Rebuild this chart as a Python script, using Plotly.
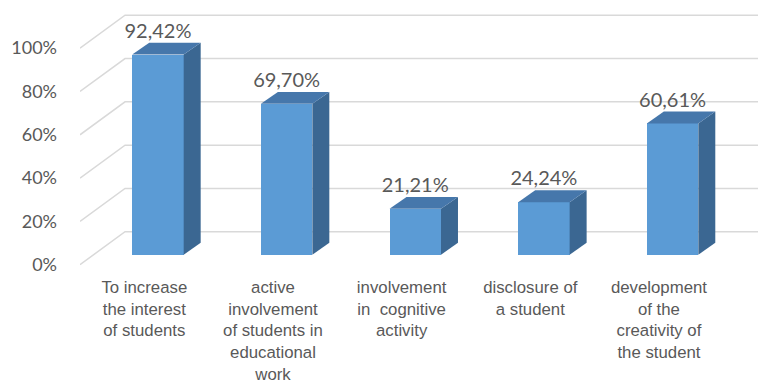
import plotly.graph_objects as go

categories = [
    "To increase<br>the interest<br>of students",
    "active<br>involvement<br>of students in<br>educational<br>work",
    "involvement<br>in  cognitive<br>activity",
    "disclosure of<br>a student",
    "development<br>of the<br>creativity of<br>the student",
]
values = [92.42, 69.70, 21.21, 24.24, 60.61]
value_labels = ["92,42%", "69,70%", "21,21%", "24,24%", "60,61%"]
tick_values = [0, 20, 40, 60, 80, 100]
tick_labels = ["0%", "20%", "40%", "60%", "80%", "100%"]

# pseudo-3D projection offsets (x in category units, y in percent units)
FRONT_DX, FRONT_DY = 0.106, 4.6   # bar front face behind front plane
BACK_DX, BACK_DY = 0.238, 10.1    # bar back face
WALL_DX, WALL_DY = 0.35, 15.2     # back wall
HALF_W = 0.2
X_MIN, X_MAX = -0.5, 4.77

FRONT = "#5b9bd5"
TOP = "#4677ab"
SIDE = "#3b6792"
GRID = "#d9d9d9"
TXT = "#595959"

fig = go.Figure()

# gridlines: diagonal on side wall + horizontal on back wall (behind the bars)
for v in tick_values:
    fig.add_shape(
        type="path",
        path=f"M {X_MIN},{v} L {X_MIN + WALL_DX},{v + WALL_DY} L {X_MAX + 1},{v + WALL_DY}",
        xref="x", yref="y", layer="below",
        line=dict(color=GRID, width=1.5))

xs = list(range(len(values)))

# front faces
fig.add_trace(go.Bar(
    x=[i + FRONT_DX for i in xs], y=values, base=FRONT_DY,
    width=2 * HALF_W, marker=dict(color=FRONT, line=dict(width=0)),
    showlegend=False, hoverinfo="skip"))

# side and top faces
for i, v in zip(xs, values):
    xl = i + FRONT_DX - HALF_W
    xr = i + FRONT_DX + HALF_W
    ddx = BACK_DX - FRONT_DX
    ddy = BACK_DY - FRONT_DY
    yb = FRONT_DY
    yt = FRONT_DY + v
    fig.add_trace(go.Scatter(
        x=[xr, xr + ddx, xr + ddx, xr, xr],
        y=[yb, yb + ddy, yt + ddy, yt, yb],
        mode="lines", fill="toself", fillcolor=SIDE,
        line=dict(width=0, color=SIDE), hoverinfo="skip", showlegend=False))
    fig.add_trace(go.Scatter(
        x=[xl, xr, xr + ddx, xl + ddx, xl],
        y=[yt, yt, yt + ddy, yt + ddy, yt],
        mode="lines", fill="toself", fillcolor=TOP,
        line=dict(width=0, color=TOP), hoverinfo="skip", showlegend=False))

# data labels
fig.add_trace(go.Scatter(
    x=[i + FRONT_DX for i in xs], y=[v + BACK_DY for v in values],
    mode="text", text=value_labels, textposition="top center",
    textfont=dict(family="Lato", size=20, color=TXT),
    hoverinfo="skip", showlegend=False))

fig.update_layout(
    width=758, height=385,
    margin=dict(l=80, r=0, t=10, b=116, autoexpand=False),
    paper_bgcolor="white", plot_bgcolor="white",
    bargap=0,
    xaxis=dict(
        range=[X_MIN, X_MAX], tickmode="array", tickvals=xs, ticktext=categories,
        showgrid=False, zeroline=False, showline=False, ticks="",
        tickfont=dict(family="Liberation Sans", size=16.8, color=TXT),
        ticklabelstandoff=6, fixedrange=True, automargin=False),
    yaxis=dict(
        range=[-2, -2 + 259 / 2.165], tickmode="array", tickvals=tick_values,
        ticktext=tick_labels, showgrid=False, zeroline=False, showline=False,
        ticks="", ticklabelstandoff=22,
        tickfont=dict(family="Lato", size=18, color=TXT), fixedrange=True,
        automargin=False),
)

fig.write_html("out.html", config={"displayModeBar": False},
               post_script="document.body.style.margin='0px';")
